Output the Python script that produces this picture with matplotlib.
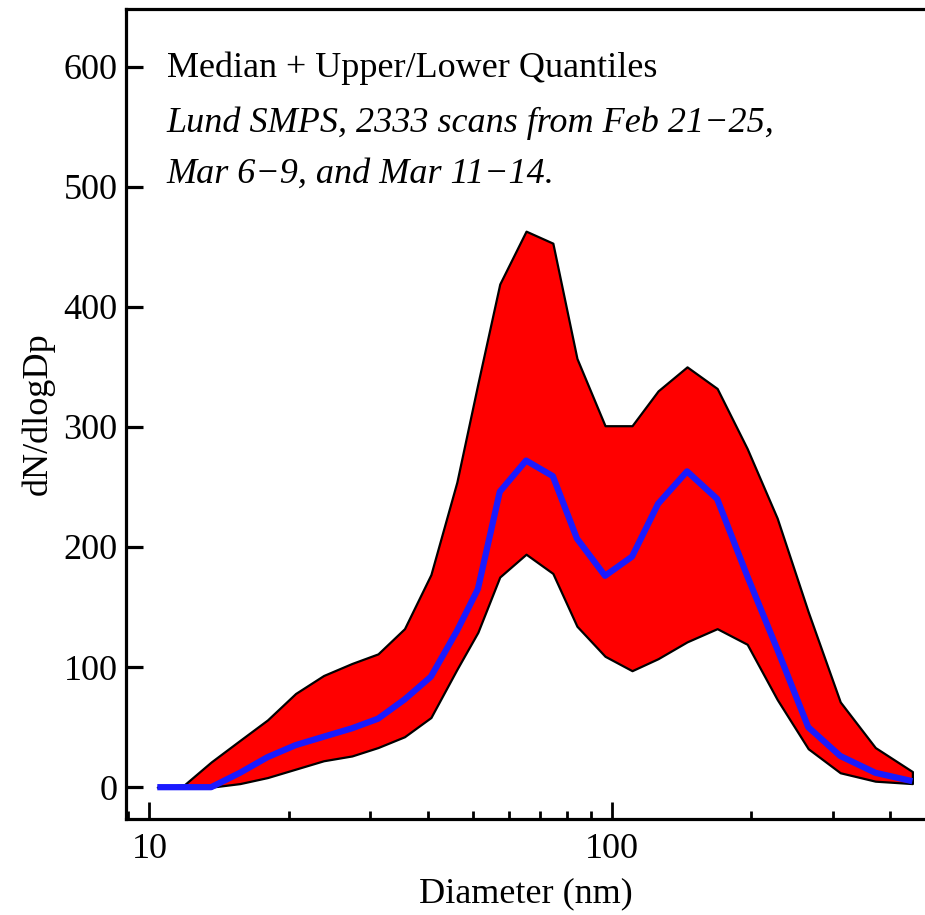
import numpy as np
import matplotlib
matplotlib.use('Agg')
import matplotlib.pyplot as plt
from matplotlib.ticker import LogLocator, NullFormatter, FixedLocator

plt.rcParams['font.family'] = ['Liberation Serif', 'DejaVu Serif']

# size bins (nm) and dN/dlogDp
diam = [10.4, 11.9, 13.6, 15.7, 18.0, 20.7, 23.8, 27.4, 31.2, 35.6, 40.6,
        46.2, 51.3, 57.2, 65.2, 74.5, 84.0, 96.6, 110.5, 125.8, 145.3,
        168.8, 196.0, 227.6, 265.6, 311.5, 370.9, 446.1]
upper = [0, 2, 21, 39, 56, 78, 93, 103, 111, 132, 177,
         254, 336, 419, 463, 453, 357, 301, 301, 330, 350,
         332, 282, 224, 146, 71, 33, 13]
median = [0, 0, 0, 12, 25, 35, 42, 49, 57, 73, 92,
          130, 165, 246, 272, 259, 207, 176, 192, 236, 263,
          240, 176, 115, 50, 26, 12, 5]
lower = [0, 0, 0, 3, 8, 15, 22, 26, 33, 42, 58,
         98, 129, 175, 194, 178, 134, 109, 97, 107, 121,
         132, 119, 73, 32, 12, 5, 3]

fig = plt.figure(figsize=(9.25, 9.15), dpi=100)
ax = fig.add_axes([126 / 925, 96 / 915, 799 / 925, 810 / 915])

ax.fill_between(diam, lower, upper, facecolor='#ff0000', edgecolor='black',
                linewidth=1.6, zorder=2)
ax.plot(diam, median, color='#1a1aff', linewidth=4.5, solid_capstyle='butt',
        zorder=3)

ax.set_xscale('log')
ax.set_xlim(8.9, 475)
ax.set_ylim(-26.5, 648)
ax.set_yticks([0, 100, 200, 300, 400, 500, 600])
ax.xaxis.set_major_locator(FixedLocator([10, 100]))
ax.xaxis.set_major_formatter(matplotlib.ticker.FixedFormatter(['10', '100']))
ax.xaxis.set_minor_locator(LogLocator(base=10, subs=np.arange(2, 10)))
ax.xaxis.set_minor_formatter(NullFormatter())

for s in ['left', 'top', 'bottom']:
    ax.spines[s].set_linewidth(2.3)
ax.spines['right'].set_visible(False)

ax.tick_params(axis='y', which='major', direction='in', length=12, width=2.3,
               labelsize=26, pad=6, right=False)
ax.tick_params(axis='x', which='major', direction='in', length=12, width=2,
               labelsize=26, pad=10, top=False)
ax.tick_params(axis='x', which='minor', direction='in', length=6, width=2,
               top=False)

ax.set_xlabel('Diameter (nm)', fontsize=26, labelpad=8)
ax.set_ylabel('dN/dlogDp', fontsize=26, labelpad=6)

ax.text(0.051, 0.916, 'Median + Upper/Lower Quantiles', transform=ax.transAxes,
        fontsize=26, va='baseline', ha='left')
ax.text(0.051, 0.848, 'Lund SMPS, 2333 scans from Feb 21\u221225,',
        transform=ax.transAxes, fontsize=26, style='italic',
        va='baseline', ha='left')
ax.text(0.051, 0.786, 'Mar 6\u22129, and Mar 11\u221214.',
        transform=ax.transAxes, fontsize=26, style='italic',
        va='baseline', ha='left')

fig.savefig('out.png', dpi=100)
